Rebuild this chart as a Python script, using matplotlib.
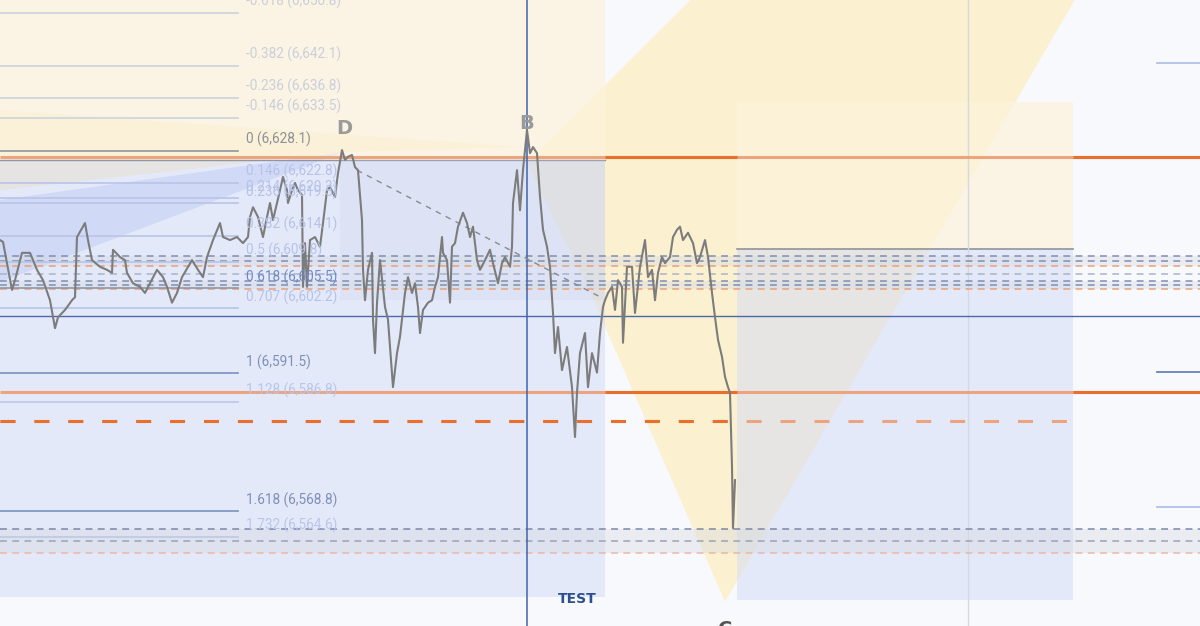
import matplotlib.pyplot as plt
import numpy as np

# ---- data (x = bar index, y = price) ----
price_x = [0, 3, 12, 15, 22, 30, 37, 43, 50, 55, 58, 65, 72, 75, 77, 85, 88, 92, 100, 107,
           112, 113, 120, 125, 127, 133, 140, 145, 150, 157, 163, 167, 172, 177, 182, 192, 198, 203, 207, 213,
           220, 223, 230, 237, 243, 248, 250, 253, 258, 263, 267, 270, 273, 280, 283, 287, 288, 292, 295, 298,
           302, 303, 305, 307, 310, 315, 320, 323, 327, 330, 335, 338, 342, 345, 348, 352, 355, 358,
           362, 363, 365, 368, 372, 373, 375, 377, 380, 385, 388, 392, 393, 397, 400, 405, 408, 412, 415, 418,
           420, 423, 428, 432, 435, 438, 442, 443, 447, 450, 452, 455, 458, 463, 467, 470, 473, 477, 480, 485,
           490, 493, 498, 502, 505, 510, 512, 513, 517, 520, 523, 527, 530, 533, 537, 540, 543, 547, 550, 553,
           555, 558, 562, 567, 572, 575, 577, 580, 585, 588, 592, 597, 600, 603,
           605, 608, 612, 615, 618, 622, 623, 627, 632, 635, 640, 645, 648, 652, 655, 658, 662, 665, 670, 673,
           677, 680, 683, 688, 693, 697, 700, 705, 708, 712, 715, 718, 722, 725, 728, 730, 732, 733, 735]
price = [6613.4, 6613.1, 6605.2, 6606.8, 6611.3, 6611.3, 6608.5, 6606.8, 6603.5, 6598.9,
         6600.7, 6601.9, 6603.5, 6604.0, 6613.9, 6616.2, 6613.4, 6610.1, 6609.0, 6608.5,
         6608.0, 6611.8, 6610.6, 6610.1, 6608.0, 6606.3, 6605.7, 6604.7, 6606.3, 6608.5,
         6607.3, 6605.7, 6603.1, 6604.7, 6607.3, 6610.1, 6608.5, 6607.3, 6610.6, 6613.4,
         6616.2, 6613.9, 6613.4, 6613.9, 6612.9, 6613.9, 6617.2, 6618.8, 6617.2, 6613.9,
         6617.2, 6619.5, 6616.7, 6621.6, 6623.8, 6621.6, 6619.5, 6621.6, 6622.8, 6621.6,
         6620.8, 6605.7, 6612.9, 6605.7, 6613.4, 6613.9, 6612.3, 6616.2, 6621.6, 6622.1,
         6620.5, 6624.4, 6628.2, 6626.6, 6627.1, 6627.4, 6625.4, 6624.9,
         6616.7, 6608.5, 6603.5, 6608.5, 6611.3, 6600.3, 6594.8, 6603.1, 6610.1, 6602.4,
         6600.3, 6591.6, 6589.2, 6594.8, 6597.5, 6604.7, 6607.3, 6604.7, 6606.3, 6602.4,
         6598.1, 6601.9, 6603.1, 6603.5, 6605.7, 6607.3, 6613.9, 6611.3, 6610.1, 6603.1,
         6612.3, 6612.9, 6615.6, 6617.9, 6616.2, 6613.9, 6615.6, 6610.1, 6608.5, 6610.1,
         6611.8, 6609.6, 6606.3, 6609.6, 6610.6, 6609.0, 6612.3, 6619.5, 6624.9, 6618.3,
         6624.9, 6631.5, 6627.7, 6628.7, 6627.7, 6620.5, 6615.1, 6612.3, 6609.0, 6601.4,
         6594.8, 6599.1, 6592.0, 6595.8, 6589.2, 6581.0, 6588.3, 6594.8, 6598.1, 6589.2,
         6594.8, 6591.6, 6598.1, 6602.4,
         6603.5, 6604.7, 6605.7, 6601.9, 6606.8, 6605.7, 6596.5, 6609.0, 6609.0, 6601.4,
         6609.0, 6613.4, 6607.3, 6608.5, 6603.5, 6608.0, 6610.6, 6609.6, 6610.6, 6613.9,
         6615.1, 6615.6, 6613.4, 6614.6, 6612.9, 6609.6, 6610.6, 6613.4, 6610.6, 6604.7,
         6600.7, 6597.0, 6594.2, 6590.9, 6589.2, 6588.3, 6576.1, 6566.0, 6573.9]

fib_ratios = ['-0.618', '-0.382', '-0.236', '-0.146', '0', '0.146', '0.214', '0.236',
              '0.382', '0.5', '0.618', '0.707', '1', '1.128', '1.618', '1.732']
fib_prices = [6650.8, 6642.1, 6636.8, 6633.5, 6628.1, 6622.8, 6620.3, 6619.5,
              6614.1, 6609.8, 6605.5, 6602.2, 6591.5, 6586.8, 6568.8, 6564.6]
fib_line_colors = ['#ccd3de'] * 4 + ['#8f969f'] + ['#b8c4e8'] * 5 + ['#8e96a4', '#b8c4e8',
                   '#7891c0', '#bcc8ea', '#7891c0', '#bcc8ea']
fib_text_colors = ['#c9cfda'] * 4 + ['#8c9099'] + ['#b6c3e8'] * 5 + ['#6f89c4', '#b6c3e8',
                   '#7e8fb8', '#b9c6ea', '#7e8fb8', '#b9c6ea']

right_fib_prices = [6642.5, 6591.7, 6569.5]
right_fib_colors = ['#a9bbe6', '#5a78b0', '#a9bbe6']

orange_levels = [6627.1, 6588.4]
orange_dashed = 6583.6
blue_level = 6600.9

cluster_prices = [6610.8, 6610.0, 6609.2, 6607.8, 6606.7, 6606.0, 6605.3, 6565.9, 6563.9, 6561.9]
cluster_colors = ['#7e8fb3', '#7e8fb3', '#e6a27a', '#aab3c6', '#7e8fb3', '#7e8fb3', '#e6a27a',
                  '#7a88a8', '#9aa3b5', '#e9b8a8']
bands = [(6609.2, 6610.8), (6605.3, 6606.7), (6561.9, 6565.9)]

# position boxes: (x0, x1, top, split, bottom)
left_box = (0, 605, 6660.0, 6626.6, 6554.7)
right_box = (737, 1073, 6636.1, 6611.9, 6554.2)

# harmonic pattern points
pat_names = ['D', 'B', 'C']
pat_x = [344, 527, 725]
pat_p = [6631.8, 6632.5, 6550.9]

trend_x = [357, 603]
trend_p = [6624.9, 6603.8]

ymin, ymax = 6549.9, 6652.9
DARK_OR = '#e8702c'
LIGHT_OR = '#eca47e'
BOX_BLUE = '#d2dbf7'
BOX_YEL = '#fdf3dc'

fig = plt.figure(figsize=(12, 6.26), dpi=100)
fig.patch.set_facecolor('#f8f9fd')
ax = fig.add_axes([0, 0, 1, 1])
ax.set_facecolor('#f8f9fd')
ax.set_xlim(0, 1200)
ax.set_ylim(ymin, ymax)
ax.axis('off')

# big harmonic triangle (B-C side)
ax.fill([527, 691, 1075, 725, 590], [6626.1, ymax + 0.1, ymax + 0.1, 6553.9, 6604.8],
        color='#fcefc8', alpha=0.85, lw=0, zorder=1)
# yellow wedge into D/B and blue wedge into D on the left
ax.fill([0, 527, 344, 0], [6634.8, 6628.7, 6627.9, 6621.6], color='#fbe5ac', alpha=0.55,
        lw=0, zorder=1)
ax.fill([0, 344, 0], [6620.0, 6627.9, 6606.5], color='#b3c3f2', alpha=0.6, lw=0, zorder=1.1)

# left position box
x0, x1, top, split, bot = left_box
ax.fill_between([x0, x1], split, top, color=BOX_YEL, alpha=0.7, lw=0, zorder=2)
ax.fill_between([x0, x1], bot, split, color=BOX_BLUE, alpha=0.5, lw=0, zorder=2)
ax.plot([x0, x1], [split, split], color='#8e96a6', lw=1, zorder=2.1)
ax.fill_between([340, 605], 6603.5, split, color='#c8cfe8', alpha=0.22, lw=0, zorder=2.1)

# right position box
x0, x1, top, split, bot = right_box
ax.fill_between([x0, x1], split, top, color=BOX_YEL, alpha=0.7, lw=0, zorder=3)
ax.fill_between([x0, x1], bot, split, color=BOX_BLUE, alpha=0.5, lw=0, zorder=3)
ax.plot([x0, x1], [split, split], color='#8e939c', lw=1.2, zorder=3.1)

# dashed clusters and bands
for lo, hi in bands:
    ax.fill_between([0, 1200], lo, hi, color='#d6d9e0', alpha=0.4, lw=0, zorder=3.2)
for p, c in zip(cluster_prices, cluster_colors):
    ax.plot([0, 1200], [p, p], color=c, lw=1.1, ls=(0, (4.5, 3.5)), zorder=3.3)

# orange levels: lighter where a box sits over them
for lvl in orange_levels:
    ax.plot([0, 1200], [lvl, lvl], color=LIGHT_OR, lw=2.2, zorder=3.3, solid_capstyle='butt')
    ax.plot([605, 737], [lvl, lvl], color=DARK_OR, lw=2.2, zorder=3.35, solid_capstyle='butt')
    ax.plot([1073, 1200], [lvl, lvl], color=DARK_OR, lw=2.2, zorder=3.35, solid_capstyle='butt')

dash_style = (0, (4.9, 6.2))
ax.plot([0, 1070], [orange_dashed] * 2, color=LIGHT_OR, lw=2.2, ls=dash_style, zorder=3.3)
ax.plot([0, 737], [orange_dashed] * 2, color=DARK_OR, lw=2.2, ls=dash_style, zorder=3.35)

# verticals and the blue level
ax.axvline(968, color='#d5d8de', lw=1, zorder=3.2)
ax.axvline(527, color='#3f64aa', lw=1.1, zorder=3.6)
ax.plot([0, 1200], [blue_level] * 2, color='#4b6aa8', lw=1, zorder=3.5)

# fib retracement (left)
for r, p, lc, tc in zip(fib_ratios, fib_prices, fib_line_colors, fib_text_colors):
    ax.plot([0, 238], [p, p], color=lc, lw=1.2, zorder=3.4)
    ax.annotate('%s (%s)' % (r, format(p, ',.1f')), (246, p), xytext=(0, 2.5),
                textcoords='offset points', va='bottom', ha='left', fontsize=9.8,
                color=tc, zorder=6, family=['Roboto', 'DejaVu Sans'])

for p, c in zip(right_fib_prices, right_fib_colors):
    ax.plot([1157, 1200], [p, p], color=c, lw=1.2, zorder=3.4)

# dashed D -> leg line
ax.plot(trend_x, trend_p, color='#8a8a8a', lw=1, ls=(0, (4, 4)), zorder=4)

# price
ax.plot(price_x, price, color='#7c7c7c', lw=1.5, zorder=5)

# pattern labels
for n, x, p in zip(pat_names, pat_x, pat_p):
    if n == 'C':
        ax.text(x, p, n, ha='center', va='top', fontsize=14, fontweight='bold',
                color='#555555', zorder=6, clip_on=False)
    else:
        ax.text(x, p, n, ha='center', va='center', fontsize=14, fontweight='bold',
                color='#9a9a9a', zorder=6)

ax.text(577, 6554.4, 'TEST', ha='center', va='center', fontsize=10, fontweight='bold',
        color='#2d4f8e', zorder=6)

fig.savefig('out.png', dpi=100, facecolor=fig.get_facecolor())
